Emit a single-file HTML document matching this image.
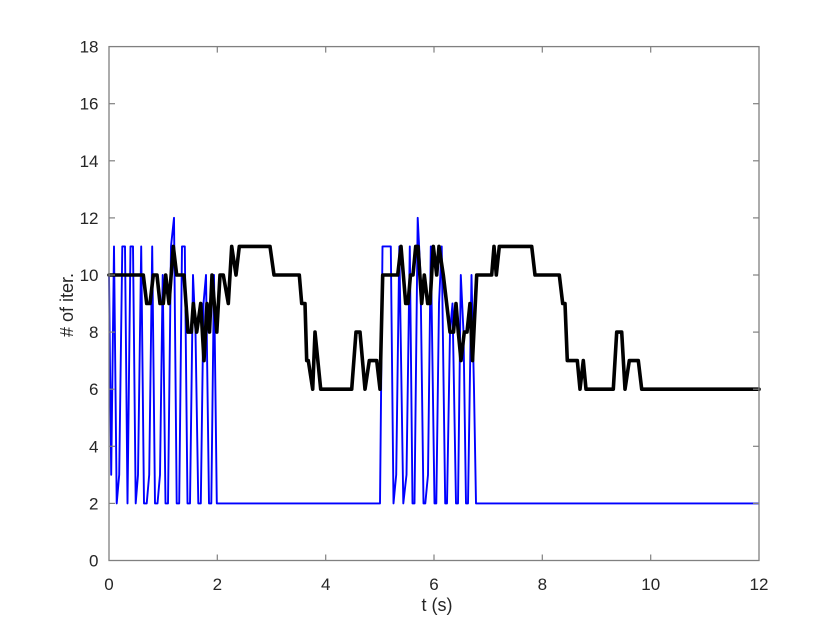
<!DOCTYPE html>
<html>
<head>
<meta charset="utf-8">
<style>
  html, body { margin: 0; padding: 0; background: #ffffff; }
  svg { display: block; }
  text { font-family: "Liberation Sans", Arial, sans-serif; fill: #262626; }
</style>
</head>
<body>
<svg width="840" height="630" viewBox="0 0 840 630" xmlns="http://www.w3.org/2000/svg">
  <rect x="0" y="0" width="840" height="630" fill="#ffffff"/>

  <!-- blue series -->
  <polyline fill="none" stroke="#0000ff" stroke-width="1.9" stroke-linejoin="round"
    points="109,275 111.2,474.8 114,246.4 116.7,503.4 119.2,474.8 122.3,246.4 125,246.4 127.5,503.4 130.5,246.4 133,246.4 135.7,503.4 138,474.8 141.2,246.4 144,503.4 146.7,503.4 149.2,474.8 152.2,246.4 155,503.4 157.5,503.4 160,474.8 162.7,275 165.5,503.4 168,503.4 171,246.4 174,217.8 176.7,503.4 179.2,503.4 182,246.4 184.8,246.4 187.5,503.4 190,503.4 193,275 195.5,332 198.3,503.4 200.8,503.4 203.5,303.5 206,275 209,503.4 211.3,503.4 214,275 216.8,503.4 380,503.4 382.5,246.4 390.8,246.4 393.5,503.4 396.2,474.8 399.3,246.4 403.3,503.4 406.5,474.8 409.8,246.4 412.5,503.4 414.5,503.4 417.7,217.8 420.5,275 423.5,503.4 425.3,503.4 428,474.8 430.8,246.4 434.5,503.4 436.3,503.4 439,303.5 441.7,246.4 445.2,503.4 447,503.4 450,332.1 452.5,303.5 456,503.4 458,503.4 460.8,275 463.5,332 466,503.4 468,503.4 471.5,275 474,389 476,503.4 759,503.4"/>

  <!-- black series -->
  <polyline fill="none" stroke="#000000" stroke-width="3.6" stroke-linejoin="round" stroke-linecap="round"
    points="109,275 143.3,275 146.7,303.5 150,303.5 153.3,275 157,275 160,303.5 163.3,303.5 165.7,275 169,303.5 173.3,246.4 176.7,275 184,275 188,332.1 191.3,332.1 193.3,303.5 196.7,332.1 200.7,303.5 204,360.6 207,303.5 209.5,332.1 212,275 214.3,303.5 216.8,332.1 220,275 223.3,275 228.3,303.5 231.7,246.4 236,275 239.3,246.4 270,246.4 274,275 299.3,275 301.7,303.5 305,303.5 306.7,360.6 308.3,360.6 312.7,389.2 315,332.1 320.7,389.2 351.7,389.2 356,332.1 360,332.1 365,389.2 369.3,360.6 376.7,360.6 380,389.2 382.7,275 397.7,275 401,246.4 405.7,303.5 408,303.5 410.5,275 413,275 415.7,246.4 418,246.4 421.7,303.5 424.3,275 427.7,303.5 430,303.5 433.3,246.4 436.7,275 439,246.4 443.3,275 450,332.1 453.5,332.1 456,303.5 458.3,332.1 461,360.6 464.3,332.1 467,332.1 470,303.5 472.5,360.6 476.7,275 491.7,275 494,246.4 496.3,275 499.3,246.4 531.7,246.4 535,275 559.3,275 562.7,303.5 565,303.5 567.3,360.6 577.3,360.6 580,389.2 583.3,360.6 586,389.2 613.3,389.2 616.7,332.1 621.7,332.1 625,389.2 629.3,360.6 638.3,360.6 641.7,389.2 759,389.2"/>

  <!-- axes box -->
  <rect x="109" y="46.6" width="650" height="513.9" fill="none" stroke="#808080" stroke-width="1.3"/>

  <!-- ticks -->
  <g stroke="#808080" stroke-width="1.2">
    <line x1="109" y1="503.4" x2="115" y2="503.4"/><line x1="759" y1="503.4" x2="753" y2="503.4"/>
    <line x1="109" y1="446.3" x2="115" y2="446.3"/><line x1="759" y1="446.3" x2="753" y2="446.3"/>
    <line x1="109" y1="389.2" x2="115" y2="389.2"/><line x1="759" y1="389.2" x2="753" y2="389.2"/>
    <line x1="109" y1="332.1" x2="115" y2="332.1"/><line x1="759" y1="332.1" x2="753" y2="332.1"/>
    <line x1="109" y1="275" x2="115" y2="275"/><line x1="759" y1="275" x2="753" y2="275"/>
    <line x1="109" y1="217.9" x2="115" y2="217.9"/><line x1="759" y1="217.9" x2="753" y2="217.9"/>
    <line x1="109" y1="160.8" x2="115" y2="160.8"/><line x1="759" y1="160.8" x2="753" y2="160.8"/>
    <line x1="109" y1="103.7" x2="115" y2="103.7"/><line x1="759" y1="103.7" x2="753" y2="103.7"/>
    <line x1="217.3" y1="560.5" x2="217.3" y2="554.5"/><line x1="217.3" y1="46.6" x2="217.3" y2="52.6"/>
    <line x1="325.7" y1="560.5" x2="325.7" y2="554.5"/><line x1="325.7" y1="46.6" x2="325.7" y2="52.6"/>
    <line x1="434" y1="560.5" x2="434" y2="554.5"/><line x1="434" y1="46.6" x2="434" y2="52.6"/>
    <line x1="542.3" y1="560.5" x2="542.3" y2="554.5"/><line x1="542.3" y1="46.6" x2="542.3" y2="52.6"/>
    <line x1="650.7" y1="560.5" x2="650.7" y2="554.5"/><line x1="650.7" y1="46.6" x2="650.7" y2="52.6"/>
  </g>

  <!-- y tick labels -->
  <g font-size="17" text-anchor="end">
    <text x="98.5" y="566.5">0</text>
    <text x="98.5" y="509.4">2</text>
    <text x="98.5" y="452.3">4</text>
    <text x="98.5" y="395.2">6</text>
    <text x="98.5" y="338.1">8</text>
    <text x="98.5" y="281">10</text>
    <text x="98.5" y="223.9">12</text>
    <text x="98.5" y="166.8">14</text>
    <text x="98.5" y="109.7">16</text>
    <text x="98.5" y="52.6">18</text>
  </g>

  <!-- x tick labels -->
  <g font-size="17" text-anchor="middle">
    <text x="109" y="590">0</text>
    <text x="217.3" y="590">2</text>
    <text x="325.7" y="590">4</text>
    <text x="434" y="590">6</text>
    <text x="542.3" y="590">8</text>
    <text x="650.7" y="590">10</text>
    <text x="759" y="590">12</text>
  </g>

  <!-- axis labels -->
  <text x="437" y="611" font-size="18" text-anchor="middle">t (s)</text>
  <text transform="translate(73,305) rotate(-90)" font-size="18" text-anchor="middle"># of iter.</text>
</svg>
</body>
</html>
